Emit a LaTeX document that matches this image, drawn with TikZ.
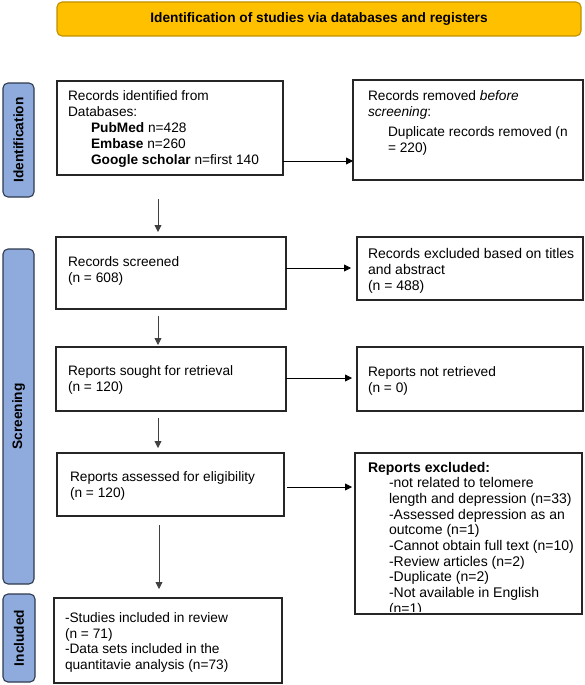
\documentclass[tikz,border=0pt]{standalone}
\usepackage{fontspec}
\setmainfont{Liberation Sans}
\usetikzlibrary{arrows.meta}
\definecolor{bannerfill}{HTML}{FFC000}
\definecolor{bannerdraw}{HTML}{BF9000}
\definecolor{barfill}{HTML}{8FAADC}
\definecolor{bardraw}{HTML}{2E3B4E}
\definecolor{boxdraw}{HTML}{262626}
\begin{document}
\begin{tikzpicture}[x=1pt,y=-1pt,
  every node/.style={inner sep=0pt,outer sep=0pt},
  mainfont/.style={font=\fontsize{13.7}{16}\selectfont},
  boxnode/.style={draw=boxdraw,line width=1.3pt,anchor=north west},
  txt/.style={mainfont,align=left,anchor=north west},
  bar/.style={draw=bardraw,fill=barfill,line width=1.1pt,rounded corners=5pt,rotate=90,
    font=\fontsize{13.7}{16}\selectfont\bfseries},
  arr/.style={line width=0.8pt,-{Triangle[length=7pt,width=7pt]}},
  varr/.style={arr,draw=black!75}]
\useasboundingbox (0,0) rectangle (585,685);
% banner
\node[draw=bannerdraw,fill=bannerfill,line width=1.1pt,rounded corners=5pt,
  minimum width=524pt,minimum height=34pt,anchor=north west,
  font=\fontsize{13.7}{16}\selectfont\bfseries] (banner) at (57,2)
  {Identification of studies via databases and registers};
% side bars
\node[bar,minimum width=114pt,minimum height=31pt] (barid) at (18.5,140) {Identification};
\node[bar,minimum width=335pt,minimum height=31pt] (barscr) at (18.5,416.5) {Screening};
\node[bar,minimum width=88pt,minimum height=32pt] (barinc) at (19,638) {Included};
% boxes
\node[boxnode,minimum width=226pt,minimum height=94pt] (ident) at (57,81) {};
\node[boxnode,minimum width=230pt,minimum height=100pt] (removed) at (353,80) {};
\node[boxnode,minimum width=230pt,minimum height=72pt] (screened) at (56,237) {};
\node[boxnode,minimum width=226pt,minimum height=63pt] (excl) at (357,237) {};
\node[boxnode,minimum width=230pt,minimum height=64pt] (sought) at (56,347) {};
\node[boxnode,minimum width=226pt,minimum height=64pt] (notret) at (357,347) {};
\node[boxnode,minimum width=227pt,minimum height=63pt] (assessed) at (57,453) {};
\node[boxnode,minimum width=227pt,minimum height=161pt] (repexcl) at (355,453) {};
\node[boxnode,minimum width=228pt,minimum height=85pt] (incl) at (54,598) {};
% texts
\node[txt] (tident) at (68,91) {Records identified from\\Databases:\\
  \hspace*{23pt}\textbf{PubMed} n=428\\
  \hspace*{23pt}\textbf{Embase} n=260\\
  \hspace*{23pt}\textbf{Google scholar} n=first 140};
\node[txt] (tremoved) at (368,91) {Records removed \textit{before}\\\textit{screening}:\\[4pt]
  \hspace*{20pt}Duplicate records removed (n\\
  \hspace*{20pt}= 220)};
\node[txt] (tscreened) at (68,257) {Records screened\\(n = 608)};
\node[txt,font=\fontsize{14}{16}\selectfont] (texcl) at (368,248) {Records excluded based on titles\\and abstract\\(n = 488)};
\node[txt] (tsought) at (68,366) {Reports sought for retrieval\\(n = 120)};
\node[txt] (tnotret) at (368,367) {Reports not retrieved\\(n = 0)};
\node[txt] (tassessed) at (70,472) {Reports assessed for eligibility\\(n = 120)};
\begin{scope}
\clip (355,453) rectangle (582,611);
\node[txt,font=\fontsize{14}{15.67}\selectfont] (trepexcl) at (368,462) {\textbf{Reports excluded:}\\
  \hspace*{21pt}-not related to telomere\\
  \hspace*{21pt}length and depression (n=33)\\
  \hspace*{21pt}-Assessed depression as an\\
  \hspace*{21pt}outcome (n=1)\\
  \hspace*{21pt}-Cannot obtain full text (n=10)\\
  \hspace*{21pt}-Review articles (n=2)\\
  \hspace*{21pt}-Duplicate (n=2)\\
  \hspace*{21pt}-Not available in English\\
  \hspace*{21pt}(n=1)};
\end{scope}
\node[txt,font=\fontsize{13.7}{15.4}\selectfont] (tincl) at (65,613) {-Studies included in review\\(n = 71)\\-Data sets included in the\\quantitavie analysis (n=73)};
% connectors
\coordinate (colx) at (158,0);
\coordinate (colx2) at (159,0);
\draw[arr] (ident.east |- 0,161) -- (removed.west |- 0,161);
\draw[arr,shorten >=6pt] (screened.east |- 0,268) -- (excl.west |- 0,268);
\draw[arr,shorten >=5pt] (sought.east |- 0,378) -- (notret.west |- 0,378);
\draw[arr,shorten <=3pt,shorten >=3pt] (assessed.east |- 0,487) -- (repexcl.west |- 0,487);
\draw[varr,shorten <=24pt,shorten >=5pt] (ident.south -| colx) -- (screened.north -| colx);
\draw[varr,shorten <=7pt,shorten >=2pt] (screened.south -| colx) -- (sought.north -| colx);
\draw[varr,shorten <=7pt,shorten >=5pt] (sought.south -| colx) -- (assessed.north -| colx);
\draw[varr,shorten <=9pt,shorten >=9pt] (assessed.south -| colx2) -- (incl.north -| colx2);
\end{tikzpicture}
\end{document}
